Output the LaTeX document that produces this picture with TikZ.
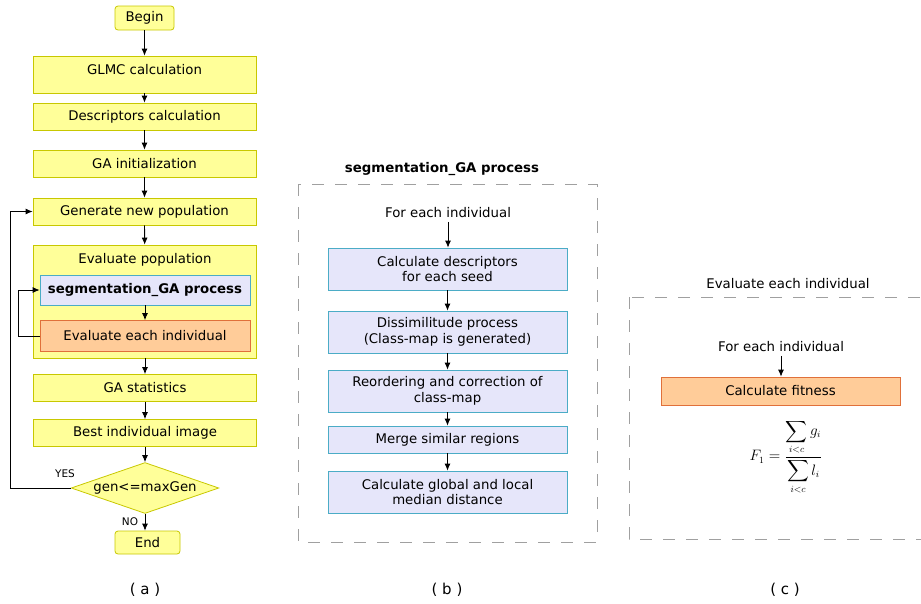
\documentclass[tikz,border=0pt]{standalone}
\usepackage{amsmath}
\usepackage{fontspec}
\setmainfont{DejaVu Sans}
\usetikzlibrary{shapes,arrows.meta,positioning}
\definecolor{flowyellow}{HTML}{FFFF99}
\definecolor{flowolive}{HTML}{C8C800}
\definecolor{segblue}{HTML}{E6E6FA}
\definecolor{segteal}{HTML}{4BACC6}
\definecolor{fitorange}{HTML}{FFCC99}
\definecolor{fitred}{HTML}{E0703A}
\definecolor{dashgray}{HTML}{A0A0A0}

\begin{document}
\begin{tikzpicture}[x=1pt, y=-1pt, >={Latex[length=7pt,width=6pt]},
    font=\fontsize{13.3}{15.5}\selectfont, line width=0.8pt,
    ybox/.style={draw=flowolive, fill=flowyellow, rectangle, minimum width=223pt, minimum height=27pt, inner sep=2pt},
    yround/.style={draw=flowolive, fill=flowyellow, rectangle, rounded corners=3pt, minimum height=24pt, inner sep=2pt},
    bbox/.style={draw=segteal, fill=segblue, rectangle, minimum width=239pt, minimum height=42pt, inner sep=2pt, align=center},
    obox/.style={draw=fitred, fill=fitorange, rectangle, minimum height=30pt, inner sep=2pt},
    dashframe/.style={draw=dashgray, line width=1pt, dash pattern=on 12pt off 11pt},
    caption/.style={font=\fontsize{15}{17}\selectfont}]
    \useasboundingbox (0,0) rectangle (921,603);

    % (a) main loop
    \node (begin) [yround, minimum width=59pt] at (144.5,18) {Begin};
    \node (glmc) [ybox, inner ysep=0pt, text height=18pt, text depth=19pt] at (144.5,74.5) {GLMC calculation};
    \node (desc) [ybox] at (144.5,116.5) {Descriptors calculation};
    \node (gainit) [ybox] at (144.5,163.5) {GA initialization};
    \node (newpop) [ybox] at (144.5,211.5) {Generate new population};
    \node (evalpop) [ybox, inner ysep=0pt, text height=18pt, text depth=95pt] at (145,301.5) {Evaluate population};
    \node (seggap) [bbox, minimum width=210pt, minimum height=30pt] at (145,290) {\textbf{segmentation\_GA process}};
    \node (evalind) [obox, minimum width=210pt, minimum height=31pt] at (145,336) {Evaluate each individual};
    \node (gastat) [ybox] at (145,388) {GA statistics};
    \node (bestimg) [ybox] at (145,433) {Best individual image};
    \node (cond) [draw=flowolive, fill=flowyellow, diamond, aspect=2.9, inner sep=1pt, minimum width=146pt, minimum height=50pt] at (145,488) {gen<=maxGen};
    \node (finish) [yround, minimum width=65pt, minimum height=23pt] at (147.5,542.5) {End};
    \node (yes) [font=\fontsize{10.5}{12}\selectfont] at (65,474) {YES};
    \node (no) [font=\fontsize{10.5}{12}\selectfont] at (130,522) {NO};
    \node (capa) [caption] at (145,590) {( a )};

    \draw[->] (begin) -- (glmc);
    \draw[->] (glmc) -- (desc);
    \draw[->] (desc) -- (gainit);
    \draw[->] (gainit) -- (newpop);
    \draw[->] (newpop) -- (evalpop);
    \draw[->] (seggap) -- (evalind);
    \draw[->] (evalpop) -- (gastat);
    \draw[->] (gastat) -- (bestimg);
    \draw[->] (bestimg) -- (cond);
    \draw[->] (cond.south) -- (cond.south |- finish.north);
    \draw[->] (cond.west) -- ++(-60,0) |- (newpop.west);
    \draw[->] (evalind.west) -- ++(-21,0) |- (seggap.west);

    % (b) segmentation_GA process
    \node (segtitle) [font=\fontsize{13.3}{15.5}\selectfont\bfseries] at (442,169) {segmentation\_GA process};
    \draw[dashframe] (298,184) rectangle (597,542);
    \node (eachb) at (448,213) {For each individual};
    \node (calcdesc) [bbox] at (447.5,269) {Calculate descriptors\\for each seed};
    \node (dissim) [bbox] at (447.5,332) {Dissimilitude process\\(Class-map is generated)};
    \node (reorder) [bbox] at (447.5,391) {Reordering and correction of\\class-map};
    \node (merge) [bbox, minimum height=27pt] at (447.5,439.5) {Merge similar regions};
    \node (median) [bbox] at (447.5,492) {Calculate global and local\\median distance};
    \node (capb) [caption] at (447,590) {( b )};

    \draw[->] (eachb) -- (eachb |- calcdesc.north);
    \draw[->] (calcdesc) -- (dissim);
    \draw[->] (dissim) -- (reorder);
    \draw[->] (reorder) -- (merge);
    \draw[->] (merge) -- (median);

    % (c) evaluate each individual
    \node (evaltitle) at (788,284) {Evaluate each individual};
    \draw[dashframe] (629,297) rectangle (935,539);
    \node (eachc) at (781,347) {For each individual};
    \node (fitness) [obox, minimum width=239pt, minimum height=28pt] at (780.5,391) {Calculate fitness};
    \node (formula) at (786,457) {\scalebox{1.05}{$F_{1}=\dfrac{\displaystyle\sum_{i<c} g_i}{\displaystyle\sum_{i<c} l_i}$}};
    \node (capc) [caption] at (785,590) {( c )};

    \draw[->] (eachc) -- (eachc |- fitness.north);
\end{tikzpicture}
\end{document}
